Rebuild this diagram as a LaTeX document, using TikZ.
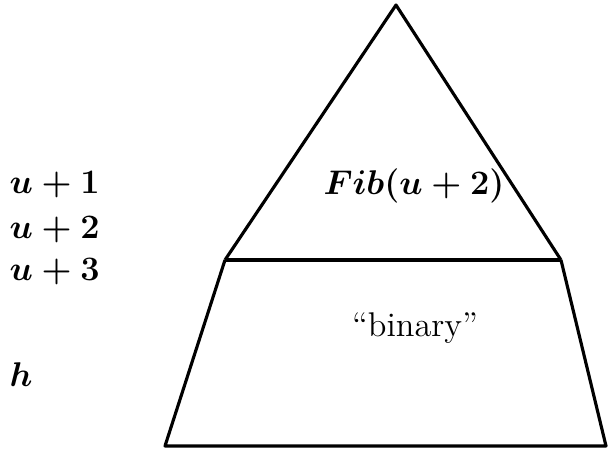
\documentclass[tikz,border=0pt]{standalone}
\usepackage{amsmath}
\usepackage{tikz}
\usetikzlibrary{positioning,calc}

\begin{document}
\begin{tikzpicture}[
  x=0.35pt,y=-0.35pt,
  font=\large,
  level/.style={anchor=west,inner sep=0pt,font=\large\boldmath},
  part/.style={inner sep=1pt},
  edge/.style={line width=1.1pt,line join=round}
]
\useasboundingbox (0,0) rectangle (608,451);
% corners of the tree
\coordinate (top) at (396,5);
\coordinate (ml) at (225,260);
\coordinate (mr) at (561,260);
\coordinate (bl) at (165,446);
\coordinate (br) at (606,446);
\draw[edge] (ml) -- (top) -- (mr);
\draw[edge] (ml) -- (mr);
\draw[edge] (ml) -- (bl) -- (br) -- (mr);
% levels
\foreach \k/\yy in {1/185,2/230,3/272}{
  \node[level] (lev\k) at (9,\yy) {$u+\k$};
}
\node[level] (levh) at (9,375) {$h$};
\node[part,font=\large\boldmath] (fib) at (414,186) {$Fib(u+2)$};
\node[part] (bin) at (415,328) {``binary''};
\end{tikzpicture}
\end{document}
